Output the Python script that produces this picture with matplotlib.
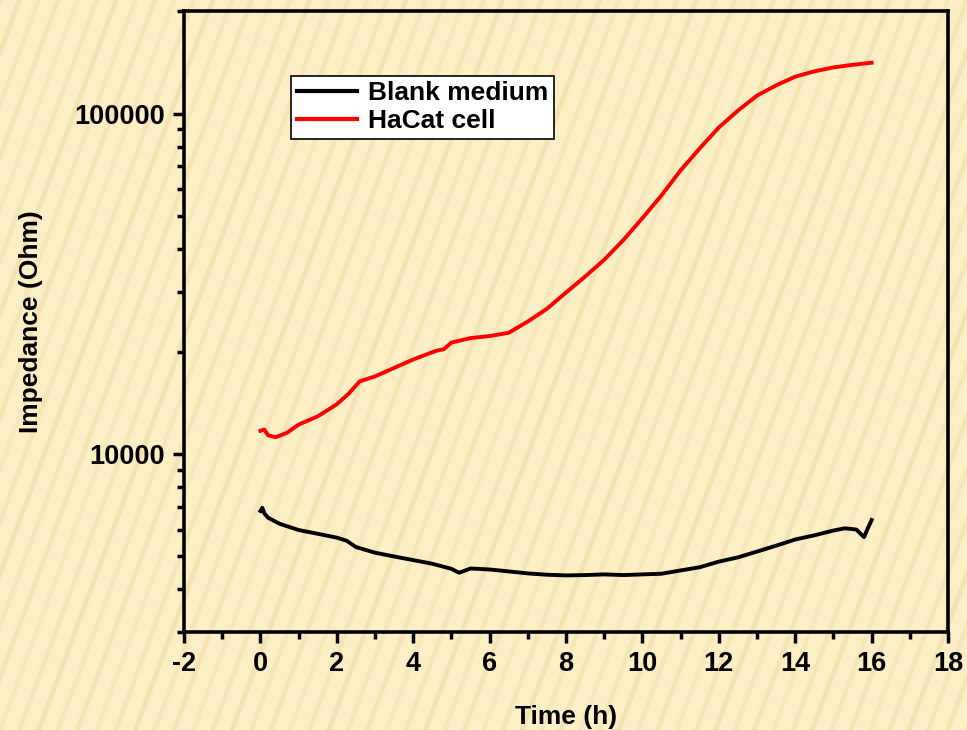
import matplotlib
matplotlib.use('Agg')
import matplotlib.pyplot as plt
import numpy as np
from matplotlib.lines import Line2D
from matplotlib.ticker import LogLocator, NullFormatter, FixedLocator

# Values
blank_t = [0.0, 0.05, 0.1, 0.2, 0.5, 1.0, 1.5, 2.0, 2.26, 2.5, 3.0, 3.5, 4.0, 4.5,
           5.0, 5.2, 5.5, 6.0, 6.5, 7.0, 7.5, 8.0, 8.5, 9.0, 9.5, 10.0, 10.5,
           11.0, 11.5, 12.0, 12.5, 13.0, 13.5, 14.0, 14.5, 15.0, 15.3, 15.6,
           15.8, 15.9, 16.0]
blank_z = [6800, 6950, 6700, 6500, 6240, 5980, 5830, 5680, 5560, 5330, 5130, 5000,
           4880, 4760, 4600, 4480, 4610, 4580, 4520, 4460, 4420, 4400, 4410,
           4430, 4410, 4430, 4450, 4550, 4650, 4830, 4970, 5170, 5380, 5610,
           5770, 5960, 6050, 6000, 5700, 6050, 6400]
hacat_t = [0.0, 0.1, 0.2, 0.4, 0.7, 1.0, 1.5, 2.0, 2.3, 2.6, 3.0, 3.5, 4.0, 4.6,
           4.8, 5.0, 5.5, 6.0, 6.5, 7.0, 7.5, 8.0, 8.5, 9.0, 9.5, 10.0, 10.5,
           11.0, 11.5, 12.0, 12.5, 13.0, 13.5, 14.0, 14.5, 15.0, 15.5, 16.0]
hacat_z = [11700, 11800, 11350, 11200, 11550, 12200, 12900, 14000, 15000, 16350,
           16900, 17900, 18950, 20100, 20300, 21250, 21900, 22200, 22700, 24500,
           26700, 29800, 33200, 37200, 42500, 49300, 57500, 68100, 79000, 91000,
           102000, 112900, 121000, 128300, 133000, 136600, 139000, 141000]
x_ticks = [-2, 0, 2, 4, 6, 8, 10, 12, 14, 16, 18]
x_labels = ['-2', '0', '2', '4', '6', '8', '10', '12', '14', '16', '18']

fig = plt.figure(figsize=(9.67, 7.30), dpi=100)
fig.patch.set_facecolor('#FCEFC6')

# faint striped background
for i, x0 in enumerate(np.arange(-0.6, 1.2, 0.02)):
    a = 0.25 + 0.2 * ((i * 7) % 5) / 4
    fig.add_artist(Line2D([x0, x0 + 0.28], [0, 1], transform=fig.transFigure,
                          color='#EBD59A', lw=3.5, alpha=a, zorder=0))

ax = fig.add_axes([0.1903, 0.1342, 0.7901, 0.8507])
ax.patch.set_alpha(0)

ax.plot(blank_t, blank_z, color='black', lw=2.8, label='Blank medium')
ax.plot(hacat_t, hacat_z, color='#FF0000', lw=2.8, label='HaCat cell')

ax.set_yscale('log')
ax.set_xlim(-2, 18)
ax.set_ylim(3000, 200000)
ax.set_xticks(x_ticks)
ax.set_xticklabels(x_labels)
ax.xaxis.set_minor_locator(FixedLocator(range(-1, 18, 2)))
ax.yaxis.set_major_locator(FixedLocator([10000, 100000]))
ax.yaxis.set_minor_locator(LogLocator(base=10, subs=np.arange(2, 10)))
ax.yaxis.set_minor_formatter(NullFormatter())
ax.set_yticklabels(['10000', '100000'])

font = dict(family='Liberation Sans', weight='bold', size=19)
for lab in ax.get_xticklabels() + ax.get_yticklabels():
    lab.set_fontproperties('Liberation Sans')
    lab.set_fontweight('bold')
    lab.set_fontsize(19.5)

ax.tick_params(which='major', direction='out', length=8, width=2.5, pad=6)
ax.tick_params(which='minor', direction='out', length=5, width=2.5)
for s in ax.spines.values():
    s.set_linewidth(2.6)

ax.set_xlabel('Time (h)', fontdict=font, labelpad=20)
ax.set_ylabel('Impedance (Ohm)', fontdict=font, labelpad=22)

leg = ax.legend(loc='upper left', bbox_to_anchor=(0.140, 0.896), fancybox=False,
                framealpha=1, edgecolor='black', handlelength=2.3,
                handletextpad=0.4, borderpad=0.22, labelspacing=0.15,
                borderaxespad=0,
                prop=dict(family='Liberation Sans', weight='bold', size=19))
leg.get_frame().set_linewidth(1.2)
for h in leg.get_lines():
    h.set_linewidth(3)

plt.savefig('out.png', dpi=100, facecolor=fig.get_facecolor())
